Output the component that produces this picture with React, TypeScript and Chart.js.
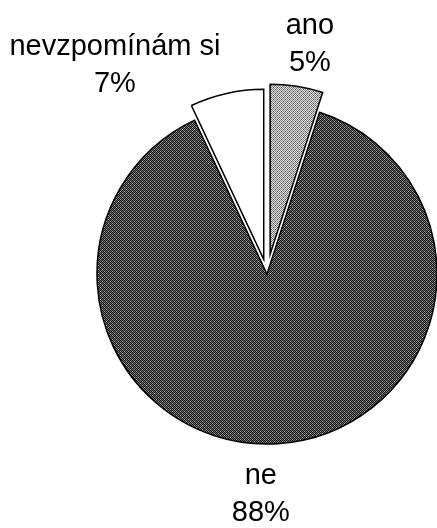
import React, { useEffect, useRef } from "react";
import { Chart, registerables } from "chart.js";

Chart.register(...registerables);

const categories = ["ano", "ne", "nevzpomínám si"];
const values = [5, 88, 7];
const percentLabels = ["5%", "88%", "7%"];

// styling
const explodePx = [20, 0, 15];
const labelAngleDeg = [10.6, 181.6, -36.1];
const labelDistFactor = [1.371, 1.3, 1.518];
const FONT = '29px "Liberation Sans", Arial, sans-serif';
const LINE_H = 37;

function makePattern(rows: string[][]): CanvasPattern | string {
  const c = document.createElement("canvas");
  c.width = rows[0].length;
  c.height = rows.length;
  const x = c.getContext("2d")!;
  rows.forEach((row, j) =>
    row.forEach((col, i) => {
      x.fillStyle = col;
      x.fillRect(i, j, 1, 1);
    })
  );
  const p = x.createPattern(c, "repeat");
  return p || "#888";
}

const explodePlugin = {
  id: "explode",
  afterDatasetUpdate(chart: any, args: any) {
    const meta = args.meta;
    meta.data.forEach((el: any, i: number) => {
      const d = explodePx[i] || 0;
      if (!d) return;
      const mid = (el.startAngle + el.endAngle) / 2;
      el.x += Math.cos(mid) * d;
      el.y += Math.sin(mid) * d;
    });
  },
};

const labelPlugin = {
  id: "sliceLabels",
  afterDatasetsDraw(chart: any) {
    const ctx = chart.ctx;
    const meta = chart.getDatasetMeta(0);
    const a = chart.chartArea;
    const cx = (a.left + a.right) / 2;
    const cy = (a.top + a.bottom) / 2;
    ctx.save();
    ctx.font = FONT;
    ctx.fillStyle = "#000";
    ctx.textAlign = "center";
    ctx.textBaseline = "middle";
    meta.data.forEach((el: any, i: number) => {
      const r = el.outerRadius;
      const ang = (labelAngleDeg[i] * Math.PI) / 180;
      const x = cx + Math.sin(ang) * r * labelDistFactor[i];
      const y = cy - Math.cos(ang) * r * labelDistFactor[i];
      ctx.fillText(categories[i], x, y - LINE_H / 2);
      ctx.fillText(percentLabels[i], x, y + LINE_H / 2);
    });
    ctx.restore();
  },
};

export default function App() {
  const ref = useRef<HTMLCanvasElement>(null);
  useEffect(() => {
    if (!ref.current) return;
    const D = "#141414";
    const L = "#6c6c6c";
    const W = "#b0b0b0";
    const nePattern = makePattern([
      [D, L, D, L],
      [L, D, W, D],
      [D, L, D, L],
      [W, D, L, D],
    ]);
    const a = "#858585";
    const b = "#dedede";
    const k = "#4a4a4a";
    const anoPattern = makePattern([
      [a, b, a, b],
      [b, a, b, k],
      [a, b, a, b],
      [b, k, b, a],
    ]);
    const chart = new Chart(ref.current, {
      type: "pie",
      data: {
        labels: categories,
        datasets: [
          {
            data: values,
            backgroundColor: [anoPattern, nePattern, "#ffffff"] as any,
            borderColor: "#000000",
            borderWidth: 1.5,
            hoverBorderWidth: 1.5,
            borderJoinStyle: "miter",
            radius: 170,
            clip: false,
          } as any,
        ],
      },
      options: {
        animation: false,
        responsive: false,
        devicePixelRatio: 1,
        layout: { padding: { left: 97, right: 0, top: 20, bottom: 0 } },
        plugins: {
          legend: { display: false },
          tooltip: { enabled: false },
        },
        events: [],
      },
      plugins: [explodePlugin, labelPlugin],
    });
    return () => chart.destroy();
  }, []);
  return (
    <div style={{ position: "fixed", left: 0, top: 0, width: 437, height: 528, background: "#fff" }}>
      <canvas ref={ref} width={437} height={528} />
    </div>
  );
}
